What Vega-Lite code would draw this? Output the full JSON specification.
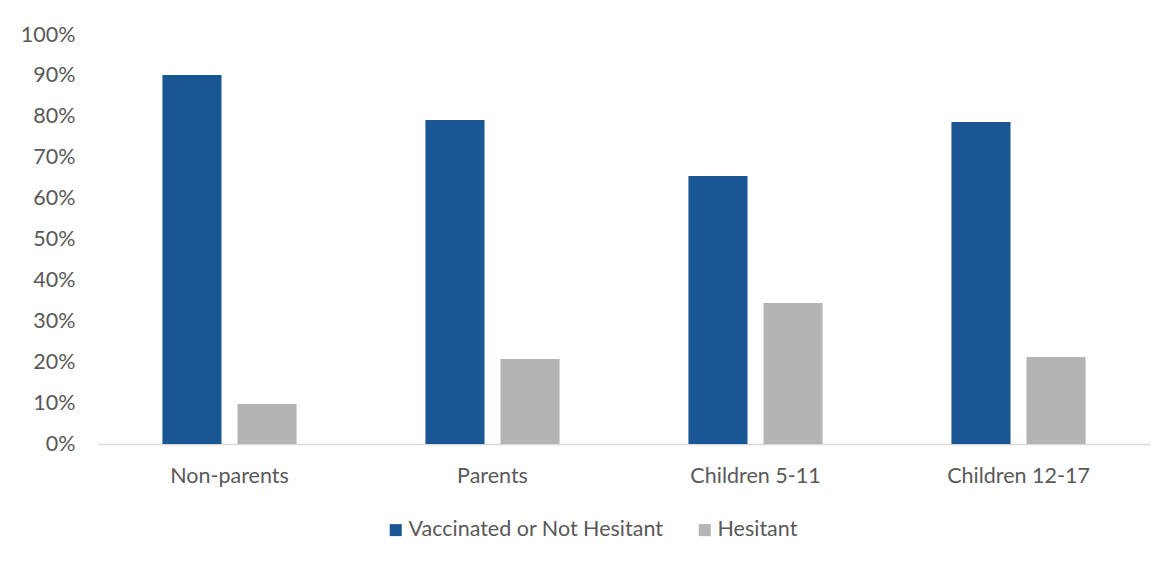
{
  "$schema": "https://vega.github.io/schema/vega-lite/v6.json",
  "autosize": "none",
  "width": 1052,
  "height": 409,
  "padding": {"left": 98, "top": 35, "right": 22, "bottom": 119},
  "background": "white",
  "data": {
    "values": [
      {"group": "Non-parents", "series": "Vaccinated or Not Hesitant", "value": 0.902},
      {"group": "Non-parents", "series": "Hesitant", "value": 0.098},
      {"group": "Parents", "series": "Vaccinated or Not Hesitant", "value": 0.792},
      {"group": "Parents", "series": "Hesitant", "value": 0.208},
      {"group": "Children 5-11", "series": "Vaccinated or Not Hesitant", "value": 0.655},
      {"group": "Children 5-11", "series": "Hesitant", "value": 0.345},
      {"group": "Children 12-17", "series": "Vaccinated or Not Hesitant", "value": 0.787},
      {"group": "Children 12-17", "series": "Hesitant", "value": 0.213}
    ]
  },
  "mark": {"type": "bar"},
  "encoding": {
    "x": {
      "field": "group",
      "type": "nominal",
      "sort": ["Non-parents", "Parents", "Children 5-11", "Children 12-17"],
      "scale": {"paddingInner": 0.49, "paddingOuter": 0.245},
      "axis": {
        "title": null,
        "labelAngle": 0,
        "ticks": false,
        "domainColor": "#d9d9d9",
        "domainWidth": 1.5,
        "labelFont": "Lato",
        "labelFontSize": 21.5,
        "labelColor": "#595959",
        "labelPadding": 21
      }
    },
    "xOffset": {
      "field": "series",
      "type": "nominal",
      "sort": ["Vaccinated or Not Hesitant", "Hesitant"],
      "scale": {"paddingInner": 0.213, "paddingOuter": 0}
    },
    "y": {
      "field": "value",
      "type": "quantitative",
      "scale": {"domain": [0, 1]},
      "axis": {
        "title": null,
        "format": ".0%",
        "values": [0, 0.1, 0.2, 0.3, 0.4, 0.5, 0.6, 0.7, 0.8, 0.9, 1],
        "labelOverlap": false,
        "grid": false,
        "domain": false,
        "ticks": false,
        "labelFont": "Lato",
        "labelFontSize": 21.5,
        "labelColor": "#595959",
        "labelPadding": 23
      }
    },
    "color": {
      "field": "series",
      "type": "nominal",
      "sort": ["Vaccinated or Not Hesitant", "Hesitant"],
      "scale": {"domain": ["Vaccinated or Not Hesitant", "Hesitant"], "range": ["#1a5594", "#b4b4b4"]},
      "legend": {
        "title": null,
        "orient": "none",
        "direction": "horizontal",
        "legendX": 287,
        "legendY": 484,
        "symbolType": "square",
        "symbolSize": 144,
        "symbolStrokeWidth": 0,
        "labelFont": "Lato",
        "labelFontSize": 21.5,
        "labelColor": "#595959",
        "labelOffset": 2,
        "labelLimit": 0,
        "columnPadding": 30
      }
    }
  },
  "config": {"view": {"stroke": null}}
}
